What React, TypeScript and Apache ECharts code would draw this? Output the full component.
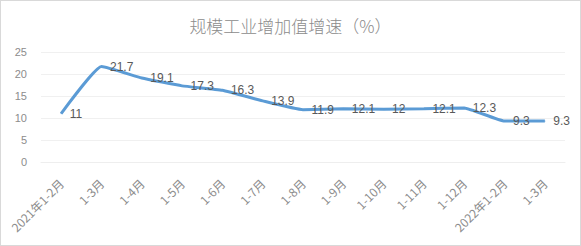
import React, { useEffect, useRef } from "react";
import * as echarts from "echarts";

const categories = ["2021年1-2月", "1-3月", "1-4月", "1-5月", "1-6月", "1-7月", "1-8月", "1-9月", "1-10月", "1-11月", "1-12月", "2022年1-2月", "1-3月"];
const values = [11, 21.7, 19.1, 17.3, 16.3, 13.9, 11.9, 12.1, 12, 12.1, 12.3, 9.3, 9.3];
const yTicks = { min: 0, max: 25, interval: 5 };
const title = "规模工业增加值增速（%）";

export default function App() {
  const ref = useRef<HTMLDivElement>(null);
  useEffect(() => {
    const chart = echarts.init(ref.current!, null, { renderer: "svg" });
    chart.setOption({
      animation: false,
      backgroundColor: "#fff",
      title: {
        text: title,
        left: "center",
        top: 11,
        textStyle: { color: "#8c8c8c", fontSize: 17, fontWeight: 300, fontFamily: "Noto Sans CJK SC" },
      },
      grid: { left: 40, right: 15, top: 51, bottom: 83 },
      xAxis: {
        type: "category",
        data: categories,
        boundaryGap: true,
        axisLine: { show: true, lineStyle: { color: "#eeeeee" } },
        axisTick: { show: false },
        axisLabel: {
          rotate: 45,
          interval: 0,
          margin: 19,
          color: "#8c8c8c",
          fontSize: 12,
          fontFamily: "Noto Sans CJK SC",
        },
      },
      yAxis: {
        type: "value",
        min: yTicks.min,
        max: yTicks.max,
        interval: yTicks.interval,
        axisLine: { show: false },
        axisTick: { show: false },
        axisLabel: { color: "#8c8c8c", fontSize: 11, margin: 14, fontFamily: "Liberation Sans" },
        splitLine: { lineStyle: { color: "#f0f0f0" } },
      },
      series: [
        {
          type: "line",
          data: values,
          smooth: 0.12,
          symbol: "circle",
          symbolSize: 1,
          showSymbol: true,
          itemStyle: { color: "#5b9bd5" },
          lineStyle: { color: "#5b9bd5", width: 3 },
          label: {
            show: true,
            position: "right",
            distance: 8,
            color: "#595959",
            fontSize: 12,
            fontFamily: "Liberation Sans",
          },
        },
      ],
    });
    return () => chart.dispose();
  }, []);
  return (
    <div
      ref={ref}
      style={{
        position: "absolute",
        left: 0,
        top: 0,
        width: 581,
        height: 246,
        boxSizing: "border-box",
        border: "1px solid #d9d9d9",
      }}
    />
  );
}
